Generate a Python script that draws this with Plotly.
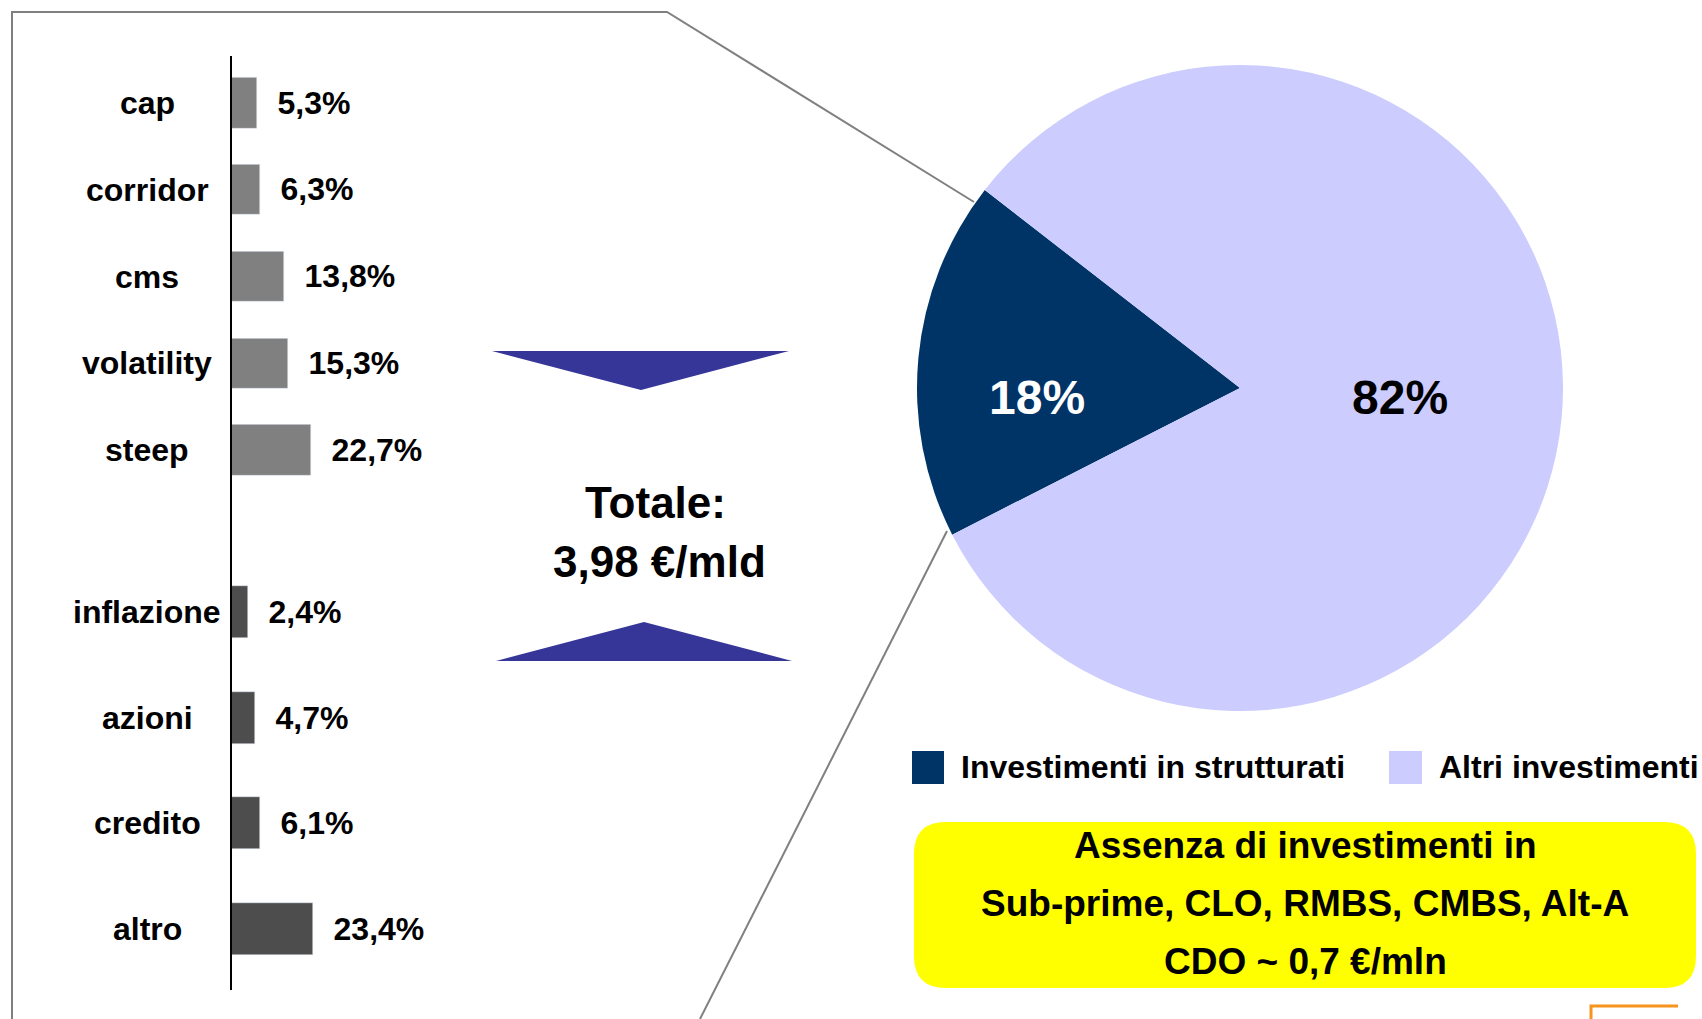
import plotly.graph_objects as go

# ---------------- data ----------------
struct_cats_top = ["cap", "corridor", "cms", "volatility", "steep"]
struct_vals_top = [5.3, 6.3, 13.8, 15.3, 22.7]
struct_cats_bot = ["inflazione", "azioni", "credito", "altro"]
struct_vals_bot = [2.4, 4.7, 6.1, 23.4]

pie_labels = ["Investimenti in strutturati", "Altri investimenti"]
pie_values = [18, 82]

total_lines = ["Totale:", "3,98 €/mld"]
note_lines = ["Assenza di investimenti in", "Sub-prime, CLO, RMBS, CMBS, Alt-A", "CDO ~ 0,7 €/mln"]

# ---------------- styling ----------------
W, H = 1702, 1019
FONT = "Liberation Sans, Arial, sans-serif"
DARK = "#003366"
LIGHT = "#CCCCFF"
ARROW = "#363699"
GRAY_LINE = "#808080"
AXIS_MIN = -3.2          # value axis minimum (bars start from the category axis, as in the original)
PX_PER_UNIT = 3.1


def px(x):
    return x / W


def py(y):
    return 1 - y / H


def fmt(v):
    return "\u00a0\u00a0" + f"{v:.1f}%".replace(".", ",")


fig = go.Figure()

bar_x_domain = [px(231), px(231 + 260)]
x_range = [AXIS_MIN, AXIS_MIN + 260 / PX_PER_UNIT]
BAR_FONT = dict(family=FONT, size=32, color="black", weight="bold")

fig.add_trace(go.Bar(
    y=struct_cats_top, x=[v - AXIS_MIN for v in struct_vals_top], base=AXIS_MIN,
    orientation="h", marker_color="#808080", width=0.58,
    text=[fmt(v) for v in struct_vals_top], textposition="outside", constraintext="none",
    cliponaxis=False, textfont=BAR_FONT,
    xaxis="x", yaxis="y", showlegend=False,
))
fig.add_trace(go.Bar(
    y=struct_cats_bot, x=[v - AXIS_MIN for v in struct_vals_bot], base=AXIS_MIN,
    orientation="h", marker_color="#4D4D4D", width=0.49,
    text=[fmt(v) for v in struct_vals_bot], textposition="outside", constraintext="none",
    cliponaxis=False, textfont=BAR_FONT,
    xaxis="x2", yaxis="y2", showlegend=False,
))

cx, cy, r = 1240, 388, 323
fig.add_trace(go.Pie(
    labels=pie_labels, values=pie_values, sort=False, direction="clockwise", rotation=243,
    marker=dict(colors=[DARK, LIGHT], line=dict(width=0)),
    textinfo="none",
    domain=dict(x=[px(cx - r), px(cx + r)], y=[py(cy + r), py(cy - r)]),
    showlegend=False, hoverinfo="label+percent",
))

shapes = []
# frame lines
shapes.append(dict(type="path", xref="paper", yref="paper",
                   path=f"M{px(12)},{py(1019)} L{px(12)},{py(12)} L{px(667)},{py(12)} L{px(974)},{py(202)}",
                   line=dict(color=GRAY_LINE, width=2)))
shapes.append(dict(type="line", xref="paper", yref="paper",
                   x0=px(947), y0=py(531), x1=px(700), y1=py(1019),
                   line=dict(color=GRAY_LINE, width=2)))
# category axis line
shapes.append(dict(type="line", xref="paper", yref="paper",
                   x0=px(231), y0=py(56), x1=px(231), y1=py(990),
                   line=dict(color="black", width=2)))
# arrows
shapes.append(dict(type="path", xref="paper", yref="paper",
                   path=f"M{px(492)},{py(351)} L{px(789)},{py(351)} L{px(641)},{py(390)} Z",
                   fillcolor=ARROW, line=dict(width=0)))
shapes.append(dict(type="path", xref="paper", yref="paper",
                   path=f"M{px(496)},{py(661)} L{px(792)},{py(661)} L{px(644)},{py(622)} Z",
                   fillcolor=ARROW, line=dict(width=0)))
# legend swatches
shapes.append(dict(type="rect", xref="paper", yref="paper",
                   x0=px(912), x1=px(944), y0=py(784), y1=py(751), fillcolor=DARK, line=dict(width=0)))
shapes.append(dict(type="rect", xref="paper", yref="paper",
                   x0=px(1389), x1=px(1422), y0=py(784), y1=py(751), fillcolor=LIGHT, line=dict(width=0)))
# yellow rounded box
x0b, y0b, x1b, y1b, rr = 914, 822, 1696, 988, 32
box = (f"M{px(x0b + rr)},{py(y0b)} L{px(x1b - rr)},{py(y0b)} Q{px(x1b)},{py(y0b)} {px(x1b)},{py(y0b + rr)} "
       f"L{px(x1b)},{py(y1b - rr)} Q{px(x1b)},{py(y1b)} {px(x1b - rr)},{py(y1b)} "
       f"L{px(x0b + rr)},{py(y1b)} Q{px(x0b)},{py(y1b)} {px(x0b)},{py(y1b - rr)} "
       f"L{px(x0b)},{py(y0b + rr)} Q{px(x0b)},{py(y0b)} {px(x0b + rr)},{py(y0b)} Z")
shapes.append(dict(type="path", xref="paper", yref="paper", path=box,
                   fillcolor="#FFFF00", line=dict(width=0), layer="below"))
# logo fragment
shapes.append(dict(type="path", xref="paper", yref="paper",
                   path=f"M{px(1591)},{py(1019)} L{px(1591)},{py(1006)} L{px(1678)},{py(1006)}",
                   line=dict(color="#F7941D", width=3)))

annotations = []
CAT_FONT = dict(family=FONT, size=32, color="black", weight="bold")
for c in struct_cats_top:
    annotations.append(dict(xref="paper", yref="y", x=px(147), y=c, text=c, showarrow=False,
                            xanchor="center", yanchor="middle", font=CAT_FONT))
for c in struct_cats_bot:
    annotations.append(dict(xref="paper", yref="y2", x=px(147), y=c, text=c, showarrow=False,
                            xanchor="center", yanchor="middle", font=CAT_FONT))
for t, yy, xx in zip(total_lines, [503, 561], [655, 659]):
    annotations.append(dict(xref="paper", yref="paper", x=px(xx), y=py(yy), text=t, showarrow=False,
                            xanchor="center", yanchor="middle",
                            font=dict(family=FONT, size=44, color="black", weight="bold")))
# pie percentage labels
for v, xx, col in zip(pie_values, [1037, 1400], ["white", "black"]):
    annotations.append(dict(xref="paper", yref="paper", x=px(xx), y=py(398),
                            text=f"{round(100 * v / sum(pie_values))}%", showarrow=False,
                            xanchor="center", yanchor="middle",
                            font=dict(family=FONT, size=48, color=col, weight="bold")))
# legend labels
for lab, xx in zip(pie_labels, [959, 1437]):
    annotations.append(dict(xref="paper", yref="paper", x=px(xx), y=py(767), text=lab, showarrow=False,
                            xanchor="left", yanchor="middle",
                            font=dict(family=FONT, size=32, color="black", weight="bold")))
for t, yy in zip(note_lines, [845, 903, 961]):
    annotations.append(dict(xref="paper", yref="paper", x=px(1305), y=py(yy), text=t, showarrow=False,
                            xanchor="center", yanchor="middle",
                            font=dict(family=FONT, size=37, color="black", weight="bold")))

ax_common = dict(visible=False, range=x_range, domain=bar_x_domain, fixedrange=True)
fig.update_layout(
    width=W, height=H, margin=dict(l=0, r=0, t=0, b=0),
    paper_bgcolor="white", plot_bgcolor="rgba(0,0,0,0)",
    font=dict(family=FONT),
    xaxis=dict(**ax_common, anchor="y"),
    xaxis2=dict(**ax_common, anchor="y2"),
    yaxis=dict(type="category", categoryorder="array", categoryarray=struct_cats_top,
               range=[4.5, -0.5], domain=[py(493.6), py(59.6)], anchor="x",
               showticklabels=False, showgrid=False, zeroline=False, showline=False),
    yaxis2=dict(type="category", categoryorder="array", categoryarray=struct_cats_bot,
                range=[3.5, -0.5], domain=[py(982), py(559)], anchor="x2",
                showticklabels=False, showgrid=False, zeroline=False, showline=False),
    shapes=shapes, annotations=annotations, bargap=0,
)

fig.write_html("out.html", config={"displayModeBar": False},
               post_script="document.body.style.margin='0px';")
